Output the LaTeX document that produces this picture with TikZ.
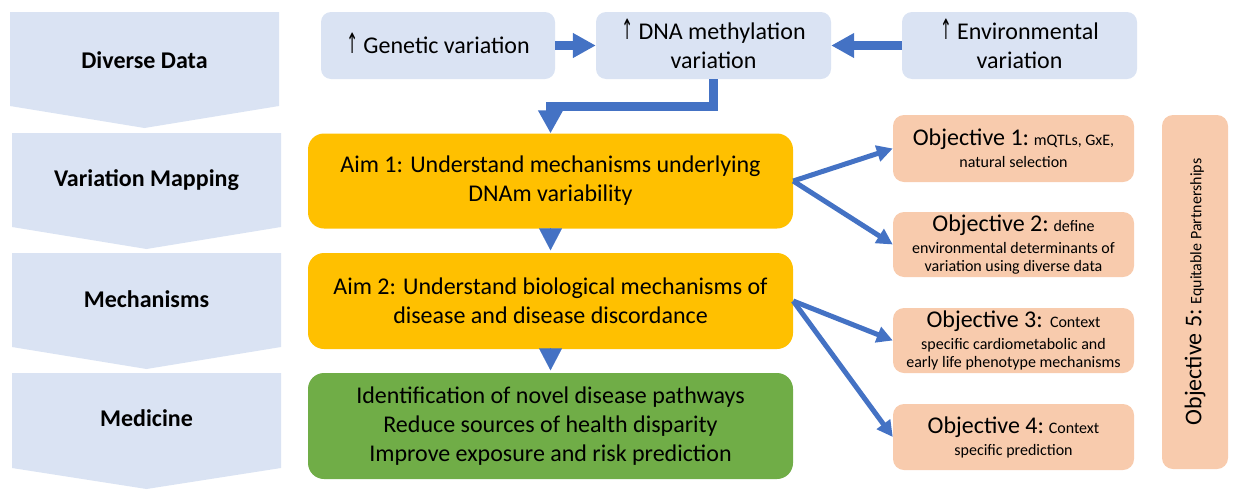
\documentclass[tikz,border=0pt]{standalone}
\usepackage{fontspec}
\usepackage{graphicx}
\setmainfont{Carlito}
\newfontfamily\arrowfont{DejaVu Sans}
\usetikzlibrary{arrows.meta,calc}
\definecolor{lblue}{HTML}{DAE3F3}
\definecolor{ablue}{HTML}{4472C4}
\definecolor{aimyellow}{HTML}{FFC000}
\definecolor{aimgreen}{HTML}{70AD47}
\definecolor{peach}{HTML}{F8CBAD}
\newcommand\fbig{\fontsize{24}{29}\selectfont}
\newcommand\fsmall{\fontsize{16}{18.5}\selectfont}
\newcommand\uparr{\smash{\scalebox{0.5}[1]{\arrowfont\fontsize{28}{28}\selectfont ↑}}}
\begin{document}
\begin{tikzpicture}[x=1pt,y=-1pt,
  chevlabel/.style={font=\fbig\bfseries, anchor=base, inner sep=0pt},
  topbox/.style={fill=lblue, rounded corners=10pt, inner sep=0pt, align=center, font=\fbig, minimum height=67pt},
  aimbox/.style={rounded corners=16pt, inner sep=0pt, align=center, font=\fbig, minimum width=485pt},
  objbox/.style={fill=peach, rounded corners=11pt, inner sep=0pt, align=center, font=\fsmall, minimum width=241pt},
  bigarrow/.style={draw=ablue, line width=8.7pt, line join=miter, -{Triangle[width=23.5pt,length=23pt]}},
  tri/.style={draw=ablue, line width=0.1pt, shorten >=2.5pt, -{Triangle[width=23pt,length=22pt]}},
  objarrow/.style={draw=ablue, line width=5pt, -{Triangle[width=16pt,length=16pt]}}
]
\useasboundingbox (0,0) rectangle (1238,496);

% chevrons
\fill[lblue] (10,12) -- (279,12) -- (279,106) -- (144.5,128) -- (10,106) -- cycle;
\fill[lblue] (12,133) -- (281,133) -- (281,227) -- (146.5,249) -- (12,227) -- cycle;
\fill[lblue] (12,253) -- (281,253) -- (281,347) -- (146.5,369) -- (12,347) -- cycle;
\fill[lblue] (12,373) -- (281,373) -- (281,468) -- (146.5,489) -- (12,468) -- cycle;
\node[chevlabel] (c1) at (144.5,68) {Diverse Data};
\node[chevlabel] (c2) at (146.5,186.7) {Variation Mapping};
\node[chevlabel] (c3) at (146.5,307.7) {Mechanisms};
\node[chevlabel] (c4) at (146.5,426.7) {Medicine};

% top boxes
\node[topbox, minimum width=234pt] (gen) at (438,45.5) {\uparr\ Genetic variation};
\node[topbox, minimum width=235pt] (dna) at (713.5,45.5) {\uparr\ DNA methylation\\variation};
\node[topbox, minimum width=235pt] (env) at (1019.5,45.5) {\uparr\ Environmental\\variation};

% aims
\node[aimbox, fill=aimyellow, minimum height=95pt] (aim1) at (550.5,181) {Aim 1: Understand mechanisms underlying\\DNAm variability};
\node[aimbox, fill=aimyellow, minimum height=96pt] (aim2) at (550.5,301) {Aim 2: Understand biological mechanisms of\\disease and disease discordance};
\node[aimbox, fill=aimgreen, minimum height=106pt] (med) at (550.5,426) {Identification of novel disease pathways\\Reduce sources of health disparity\\Improve exposure and risk prediction};

% objectives
\node[objbox, minimum height=67pt] (obj1) at (1013.5,148.5) {{\fbig Objective 1:} mQTLs, GxE,\\[3.5pt]natural selection};
\node[objbox, minimum height=65pt] (obj2) at (1013.5,244.5) {{\fbig Objective 2:} define\\[3.5pt]environmental determinants of\\variation using diverse data};
\node[objbox, minimum height=65pt] (obj3) at (1013.5,340.5) {{\fbig Objective 3:}\ \ Context\\[3.5pt]specific cardiometabolic and\\early life phenotype mechanisms};
\node[objbox, minimum height=66pt] (obj4) at (1013.5,437) {{\fbig Objective 4:} Context\\[3.5pt]specific prediction};
\node[fill=peach, rounded corners=11pt, inner sep=0pt, rotate=90, minimum width=354pt, minimum height=66pt, font=\fsmall] (obj5) at (1195,292) {{\fbig Objective 5:} Equitable Partnerships};

% connectors
\draw[bigarrow] (gen.east) -- (dna.west);
\draw[bigarrow] (env.west) -- (dna.east);
\draw[bigarrow] (dna.south) |- ($(aim1.north)+(0,-27)$) -- (aim1.north);
\draw[tri] (aim1.south) -- (aim2.north);
\draw[tri] (aim2.south) -- (med.north);
\draw[objarrow] (aim1.east) -- (obj1.west);
\draw[objarrow] (aim1.east) -- (obj2.west);
\draw[objarrow] (aim2.east) -- (obj3.west);
\draw[objarrow] (aim2.east) -- (obj4.west);
\end{tikzpicture}
\end{document}
